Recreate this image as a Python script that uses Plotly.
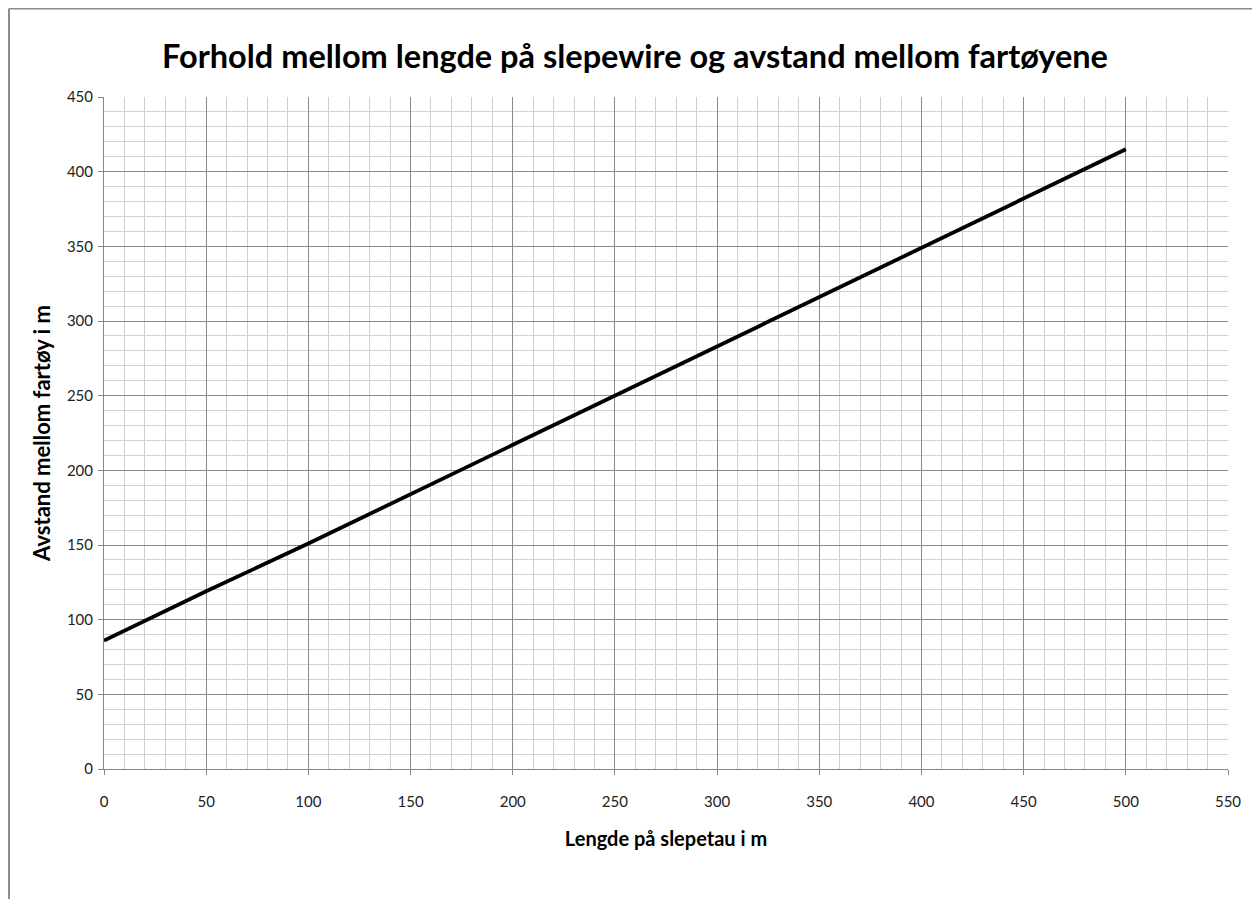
import plotly.graph_objects as go

# Data
wire_length = [0, 50, 100, 150, 200, 250, 300, 350, 400, 450, 500]
distance = [86, 119, 151, 184, 217, 250, 283, 316, 349, 382, 415]

title_text = "Forhold mellom lengde på slepewire og avstand mellom fartøyene"
x_title = "Lengde på slepetau i m"
y_title = "Avstand mellom fartøy i m"

FONT = "Lato"

fig = go.Figure()
fig.add_trace(go.Scatter(
    x=wire_length, y=distance, mode="lines",
    line=dict(color="black", width=3.8),
    showlegend=False, hoverinfo="x+y",
))

# page body has an 8px margin, so figure coords = screen coords - 8
W, H = 1252, 891
ml, mr, mt, mb = 96, 32, 89, 130
pw, ph = W - ml - mr, H - mt - mb

axis_common = dict(
    showline=True, linecolor="#868686", linewidth=1,
    showgrid=True, gridcolor="#8a8a8a", gridwidth=1,
    ticks="outside", ticklen=5, tickcolor="#868686", tickwidth=1,
    zeroline=False,
    tickfont=dict(family=FONT, size=15, color="#222222"),
    minor=dict(dtick=10, showgrid=True, gridcolor="#d0d0d0", gridwidth=1, ticks=""),
)

fig.update_layout(
    width=W, height=H,
    margin=dict(l=ml, r=mr, t=mt, b=mb),
    paper_bgcolor="white", plot_bgcolor="white",
    title=dict(text=f"<b>{title_text}</b>", x=(635 - 8) / W, xanchor="center",
               y=1 - 49 / H, yanchor="middle",
               font=dict(family=FONT, size=32.5, color="black")),
    xaxis=dict(range=[0, 550], dtick=50, tick0=0,
               title=dict(text=f"<b>{x_title}</b>", standoff=22,
                          font=dict(family=FONT, size=20, color="black")),
               ticklabelstandoff=14,
               **axis_common),
    yaxis=dict(range=[0, 450], dtick=50, tick0=0,
               title=dict(text=f"<b>{y_title}</b>", standoff=10,
                          font=dict(family=FONT, size=22, color="black")),
               ticklabelstandoff=2,
               **axis_common),
)

# Outer chart frame (left and top edges visible in the reference)
x_left = (1 - ml) / pw
y_top = 1 + (mt - 0.5) / ph
y_bottom = -(mb + 10) / ph
x_right = (W + 10 - ml) / pw
fig.add_shape(type="line", xref="paper", yref="paper",
              x0=x_left, x1=x_left, y0=y_bottom, y1=y_top,
              line=dict(color="#8c8c8c", width=2))
fig.add_shape(type="line", xref="paper", yref="paper",
              x0=x_left, x1=x_right, y0=y_top, y1=y_top,
              line=dict(color="#8c8c8c", width=2))

fig.write_html("out.html")
